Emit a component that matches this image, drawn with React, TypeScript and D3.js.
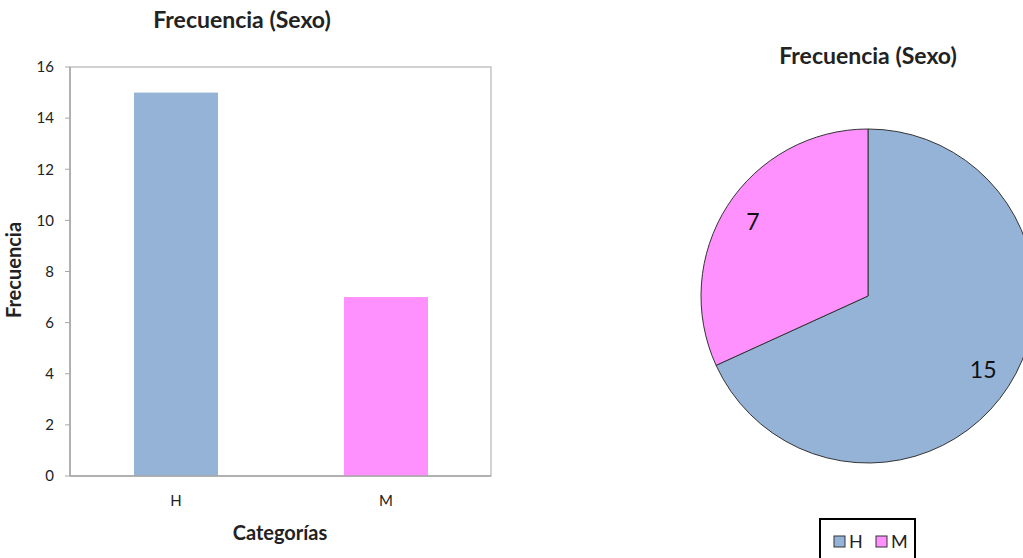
import React from "react";
import * as d3 from "d3";

const categories = ["H", "M"];
const values = [15, 7];
const colors = ["#95B3D7", "#FF91FF"];
const yTicks = [0, 2, 4, 6, 8, 10, 12, 14, 16];
const title = "Frecuencia (Sexo)";
const yLabel = "Frecuencia";
const xLabel = "Categorías";

const FONT = "Lato, 'Open Sans', sans-serif";

export default function App() {
  const W = 1023, H = 558;
  // bar chart
  const x0 = 70, x1 = 491, yTop = 67, yBot = 476;
  const x = d3.scaleBand<string>().domain(categories).range([x0 + 1, x1]).paddingInner(0.6).paddingOuter(0.3);
  const y = d3.scaleLinear().domain([0, 16]).range([yBot, yTop]);

  // pie
  const cx = 868, cy = 296, r = 167;
  const pie = d3.pie<number>().sort(null).value((d) => d);
  const arcs = pie(values);
  const arc = d3.arc<d3.PieArcDatum<number>>().innerRadius(0).outerRadius(r);
  const labelArc = d3.arc<d3.PieArcDatum<number>>().innerRadius(r * 0.82).outerRadius(r * 0.82);

  return (
    <svg width={W} height={H} style={{ position: "absolute", left: 0, top: 0, fontFamily: FONT }}>
      <rect width={W} height={H} fill="#fff" />
      {/* Bar chart */}
      <text x={242} y={28} textAnchor="middle" fontSize={23} fontWeight="bold" fill="#222">{title}</text>
      <rect x={x0} y={yTop} width={x1 - x0} height={yBot - yTop} fill="none" stroke="#a6a6a6" strokeWidth={1} />
      {yTicks.map((t) => (
        <g key={t}>
          <line x1={x0 - 5} x2={x0} y1={y(t)} y2={y(t)} stroke="#a6a6a6" />
          <text x={54} y={y(t)} dy="0.35em" textAnchor="end" fontSize={15} fill="#222">{t}</text>
        </g>
      ))}
      {categories.map((c, i) => (
        <g key={c}>
          <rect x={x(c)} y={y(values[i])} width={x.bandwidth()} height={yBot - y(values[i])} fill={colors[i]} />
          <text x={(x(c) as number) + x.bandwidth() / 2} y={506} textAnchor="middle" fontSize={15} fill="#222">{c}</text>
        </g>
      ))}
      <line x1={x0} x2={x1} y1={yBot} y2={yBot} stroke="#a6a6a6" strokeWidth={1.5} />
      <line x1={x0} x2={x0} y1={yTop} y2={yBot} stroke="#a6a6a6" strokeWidth={1.5} />
      <text x={280} y={540} textAnchor="middle" fontSize={20} fontWeight="bold" fill="#222">{xLabel}</text>
      <text transform={`translate(21,270) rotate(-90)`} textAnchor="middle" fontSize={20} fontWeight="bold" fill="#222">{yLabel}</text>

      {/* Pie chart */}
      <text x={868} y={64} textAnchor="middle" fontSize={23} fontWeight="bold" fill="#222">{title}</text>
      <g transform={`translate(${cx},${cy})`}>
        {arcs.map((a, i) => (
          <path key={i} d={arc(a) as string} fill={colors[i]} stroke="#333" strokeWidth={1} />
        ))}
        {arcs.map((a, i) => {
          const [lx, ly] = labelArc.centroid(a);
          return (
            <text key={"l" + i} x={lx} y={ly} dy="0.35em" textAnchor="middle" fontSize={23} fill="#111">{values[i]}</text>
          );
        })}
      </g>
      {/* Legend */}
      <rect x={820} y={519} width={95} height={45} fill="#fff" stroke="#000" strokeWidth={2} />
      {categories.map((c, i) => (
        <g key={"lg" + c}>
          <rect x={834 + i * 42} y={536} width={11} height={11} fill={colors[i]} stroke="#333" strokeWidth={1} />
          <text x={849 + i * 42} y={548} fontSize={18} fill="#222">{c}</text>
        </g>
      ))}
    </svg>
  );
}
